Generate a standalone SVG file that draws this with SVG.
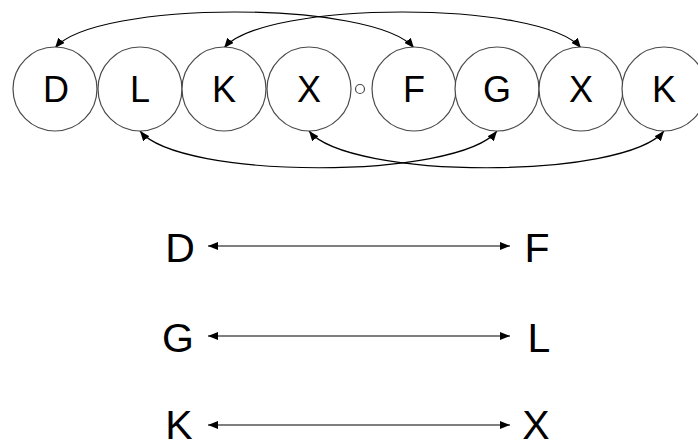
<svg xmlns="http://www.w3.org/2000/svg" width="698" height="443" viewBox="0 0 698 443">
<defs>
<style>
.node circle{fill:#fff;stroke:#4a4a4a;stroke-width:1.2}
.node text,.lbl{font-family:"Liberation Sans",Arial,sans-serif;fill:#000;text-anchor:middle}
.node text{font-size:36px}
.lbl{font-size:41px}
.conn path,.conn line{fill:none;stroke:#000;stroke-width:1.2}
</style>
<marker id="ah" markerUnits="userSpaceOnUse" viewBox="0 0 10 8" refX="10" refY="4" markerWidth="10" markerHeight="8" orient="auto-start-reverse">
<path d="M0,0 L10,4 L0,8 Z" fill="#000"/>
</marker>
</defs>
<rect width="698" height="443" fill="#fff"/>
<g id="connectors" class="conn">
<path d="M55,48 C95,0 374,0 414,48" marker-start="url(#ah)" marker-end="url(#ah)"/>
<path d="M224,48 C264,0 541,0 581,48" marker-start="url(#ah)" marker-end="url(#ah)"/>
<path d="M140,131 C180,180 457,180 497,131" marker-start="url(#ah)" marker-end="url(#ah)"/>
<path d="M309,131 C349,180 624,180 664,131" marker-start="url(#ah)" marker-end="url(#ah)"/>
<line x1="208" y1="246" x2="510" y2="246" marker-start="url(#ah)" marker-end="url(#ah)"/>
<line x1="208" y1="336" x2="510" y2="336" marker-start="url(#ah)" marker-end="url(#ah)"/>
<line x1="208" y1="425" x2="510" y2="425" marker-start="url(#ah)" marker-end="url(#ah)"/>
</g>
<g id="n1" class="node"><circle cx="55" cy="89" r="42"/><text x="56" y="102">D</text></g>
<g id="n2" class="node"><circle cx="140" cy="89" r="42"/><text x="140" y="102">L</text></g>
<g id="n3" class="node"><circle cx="224" cy="89" r="42"/><text x="224" y="102">K</text></g>
<g id="n4" class="node"><circle cx="309" cy="89" r="42"/><text x="309" y="102">X</text></g>
<g id="sep" class="node"><circle cx="360" cy="89" r="4.5"/></g>
<g id="n5" class="node"><circle cx="414" cy="89" r="42"/><text x="414" y="102">F</text></g>
<g id="n6" class="node"><circle cx="497" cy="89" r="42"/><text x="497" y="102">G</text></g>
<g id="n7" class="node"><circle cx="581" cy="89" r="42"/><text x="581" y="102">X</text></g>
<g id="n8" class="node"><circle cx="664" cy="89" r="42"/><text x="664" y="102">K</text></g>
<g id="labels">
<text class="lbl" x="180" y="262">D</text>
<text class="lbl" x="537" y="262">F</text>
<text class="lbl" x="178" y="352">G</text>
<text class="lbl" x="539" y="352">L</text>
<text class="lbl" x="179" y="439">K</text>
<text class="lbl" x="536" y="439">X</text>
</g>
</svg>
